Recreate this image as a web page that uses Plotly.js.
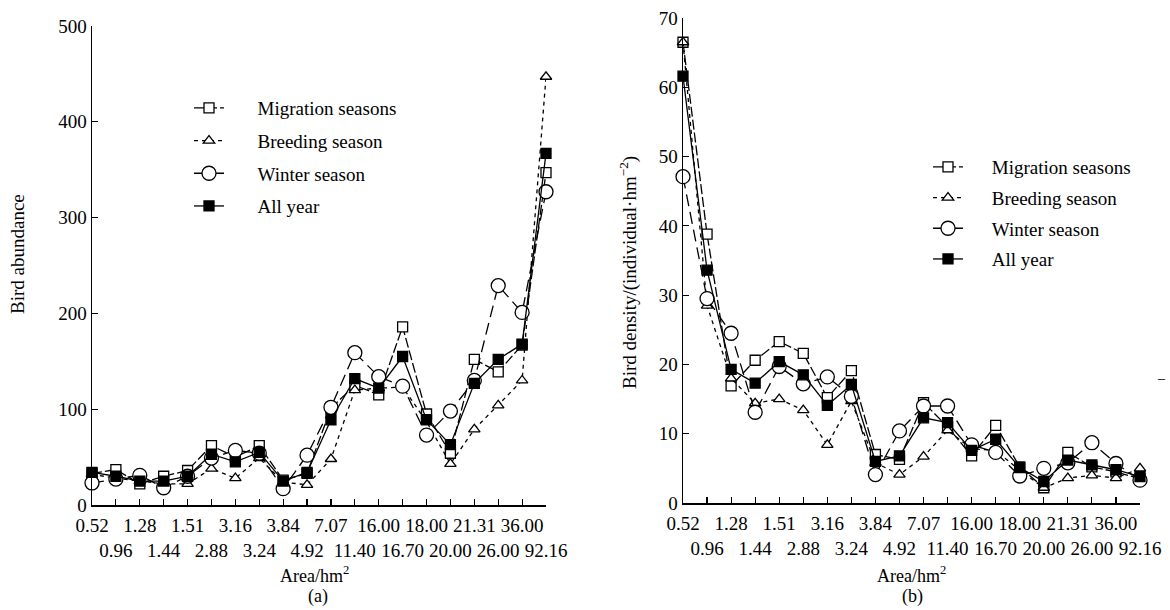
<!DOCTYPE html>
<html>
<head>
<meta charset="utf-8">
<script src="https://cdn.plot.ly/plotly-3.0.1.min.js"></script>
<style>html,body{margin:0;padding:0;background:#fff;}#chart{width:1170px;height:610px;}</style>
</head>
<body>
<div id="chart"></div>
<script>
// Categories (patch area, hm2)
const categories = ["0.52","0.96","1.28","1.44","1.51","2.88","3.16","3.24","3.84","4.92","7.07","11.40","16.00","16.70","18.00","20.00","21.31","26.00","36.00","92.16"];
const seriesNames = ["Migration seasons","Breeding season","Winter season","All year"];

// (a) Bird abundance
const migrationA = [33, 37, 22, 30, 36, 62, 50, 62, 26, 33, 101, 125, 115, 186, 95, 54, 152, 139, 167, 347];
const breedingA  = [32, 28, 25, 22, 22, 38, 28, 49, 24, 21, 48, 120, 122, 123, 87, 43, 79, 104, 130, 447];
const winterA    = [23, 27, 31, 18, 30, 49, 57, 54, 17, 52, 102, 159, 134, 124, 73, 98, 130, 229, 201, 327];
const allYearA   = [34, 30, 25, 25, 30, 53, 45, 55, 25, 34, 89, 132, 122, 155, 89, 63, 127, 152, 168, 367];

// (b) Bird density (individual/hm2)
const migrationB = [66.5, 38.8, 16.9, 20.6, 23.3, 21.6, 15.2, 19.1, 7.0, 6.3, 14.5, 11.0, 6.8, 11.2, 5.2, 2.2, 7.3, 5.2, 4.5, 3.5];
const breedingB  = [66.5, 28.5, 18.0, 14.4, 15.0, 13.4, 8.4, 14.7, 5.8, 4.1, 6.7, 10.5, 7.8, 7.6, 4.7, 2.2, 3.6, 4.0, 3.6, 5.0];
const winterB    = [47.1, 29.5, 24.5, 13.1, 19.7, 17.2, 18.2, 15.4, 4.1, 10.4, 14.0, 14.0, 8.4, 7.3, 3.9, 5.0, 5.8, 8.7, 5.7, 3.3];
const allYearB   = [61.6, 33.6, 19.3, 17.3, 20.4, 18.5, 14.1, 17.1, 6.0, 6.8, 12.3, 11.6, 7.6, 9.2, 5.1, 3.1, 6.2, 5.5, 4.8, 3.8];

const tickText = categories.map((c, i) => (i % 2 ? "<br>" + c : c));

const FONT = "'Liberation Serif', 'Times New Roman', serif";
const styles = [
  {symbol: "square", color: "#fff", size: 10, dash: "10px,3px"},
  {symbol: "triangle-up", color: "#fff", size: 10, dash: "4px,4px"},
  {symbol: "circle", color: "#fff", size: 14, dash: "12px,6px"},
  {symbol: "square", color: "#000", size: 10, dash: "solid"}
];

function makeTraces(dataSets, xa, ya, legendId, pad) {
  return dataSets.map((d, k) => ({
    type: "scatter", mode: "lines+markers",
    x: categories, y: d, xaxis: xa, yaxis: ya,
    name: "\u00A0".repeat(pad) + seriesNames[k],
    legend: legendId, legendgroup: legendId + k,
    cliponaxis: false,
    line: {color: "#000", width: 1.3, dash: styles[k].dash},
    marker: {symbol: styles[k].symbol, size: styles[k].size, color: styles[k].color, line: {color: "#000", width: 1.3}}
  }));
}

const traces = [].concat(
  makeTraces([migrationA, breedingA, winterA, allYearA], "x", "y", "legend", 6),
  makeTraces([migrationB, breedingB, winterB, allYearB], "x2", "y2", "legend2", 5)
);

const W = 1170, H = 610;
const px = v => v / W, py = v => 1 - v / H;

const xCommon = {
  type: "category", range: [0, 19], showgrid: false, zeroline: false,
  showline: true, linecolor: "#000", linewidth: 1.5,
  ticks: "inside", ticklen: 6, tickwidth: 1.2, tickcolor: "#000",
  tickvals: categories, ticktext: tickText, tickangle: 0, ticklabelstandoff: 3,
  tickfont: {family: FONT, size: 19, color: "#000"}
};
const yCommon = {
  showgrid: false, zeroline: false, showline: true, linecolor: "#000", linewidth: 1.5,
  ticks: "inside", ticklen: 6, tickwidth: 1.2, tickcolor: "#000",
  tickfont: {family: FONT, size: 19, color: "#000"}
};

const legendCommon = {
  font: {family: FONT, size: 19, color: "#000"},
  bgcolor: "rgba(0,0,0,0)", traceorder: "grouped",
  xanchor: "left", yanchor: "top", itemclick: false
};

function ann(text, x, y, angle, size) {
  return {text: text, xref: "paper", yref: "paper", x: px(x), y: py(y), xanchor: "center", yanchor: "middle",
          textangle: angle || 0, showarrow: false, font: {family: FONT, size: size || 19, color: "#000"}};
}

const layout = {
  width: W, height: H,
  margin: {l: 0, r: 0, t: 0, b: 0},
  paper_bgcolor: "#fff", plot_bgcolor: "#fff",
  showlegend: true,
  xaxis: Object.assign({}, xCommon, {domain: [px(92), px(546)], anchor: "y"}),
  yaxis: Object.assign({}, yCommon, {domain: [py(505), py(26)], range: [0, 500], dtick: 100, anchor: "x"}),
  xaxis2: Object.assign({}, xCommon, {domain: [px(683), px(1140)], anchor: "y2"}),
  yaxis2: Object.assign({}, yCommon, {domain: [py(503), py(18)], range: [0, 70], dtick: 10, anchor: "x2"}),
  legend: Object.assign({}, legendCommon, {x: px(189), y: py(89), tracegroupgap: 5}),
  legend2: Object.assign({}, legendCommon, {x: px(928), y: py(148), tracegroupgap: 3}),
  annotations: [
    ann("Bird abundance", 18, 254, -90),
    ann("Area/hm<sup>2</sup>", 314, 574, 0, 18),
    ann("(a)", 318, 596, 0, 18),
    ann("Bird density/(individual\u00B7hm<sup>\u22122</sup>)", 628, 273, -90),
    ann("Area/hm<sup>2</sup>", 911, 574, 0, 18),
    ann("(b)", 912, 596, 0, 18),
    {text: "\u2013", xref: "paper", yref: "paper", x: px(1161), y: py(378), xanchor: "center", yanchor: "middle", showarrow: false, font: {family: FONT, size: 14, color: "#000"}}
  ]
};

Plotly.newPlot("chart", traces, layout, {displayModeBar: false, staticPlot: true});
</script>
</body>
</html>
